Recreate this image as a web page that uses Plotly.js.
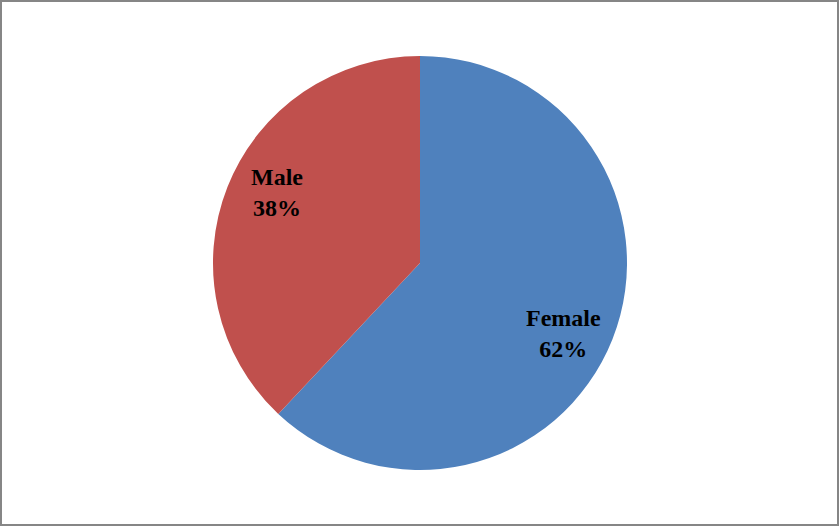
<!DOCTYPE html>
<html>
<head>
<meta charset="utf-8">
<script src="https://cdn.plot.ly/plotly-3.0.1.min.js"></script>
<style>
  html, body { margin: 0; padding: 0; background: #fff; }
  #frame { width: 839px; height: 526px; box-sizing: border-box; border: 2px solid #868686; }
</style>
</head>
<body>
<div id="frame"><div id="myPlot"></div></div>
<script>
// Gender split
const labels = ['Female', 'Male'];
const values = [62, 38];
const colors = ['#4F81BD', '#C0504D'];

const W = 835, H = 522;
const cx = 418, cy = 261, R = 207;

const trace = {
    type: 'pie',
    labels: labels,
    values: values,
    sort: false,
    direction: 'clockwise',
    rotation: 0,
    marker: { colors: colors },
    textinfo: 'none',
    hoverinfo: 'label+percent',
    domain: { x: [(cx - R) / W, (cx + R) / W], y: [(H - cy - R) / H, (H - cy + R) / H] }
};

// data labels placed along each slice's bisector, like Excel's best-fit labels
const total = values.reduce((a, b) => a + b, 0);
let start = 0;
const annotations = labels.map((lab, i) => {
    const frac = values[i] / total;
    const mid = (start + frac / 2) * 2 * Math.PI + 4.5 * Math.PI / 180;
    start += frac;
    const r = R * 0.77;
    const px = cx + r * Math.sin(mid);
    const py = cy - r * Math.cos(mid);
    return {
        xref: 'paper', yref: 'paper',
        x: px / W, y: 1 - py / H,
        xanchor: 'center', yanchor: 'middle',
        showarrow: false,
        text: '<b>' + lab + '</b><br><b>' + Math.round(frac * 100) + '%</b>',
        font: { family: 'Liberation Serif', size: 24, color: '#000' }
    };
});

const layout = {
    width: W,
    height: H,
    margin: { l: 0, r: 0, t: 0, b: 0 },
    showlegend: false,
    paper_bgcolor: '#fff',
    annotations: annotations
};

Plotly.newPlot('myPlot', [trace], layout, { displayModeBar: false });
</script>
</body>
</html>
